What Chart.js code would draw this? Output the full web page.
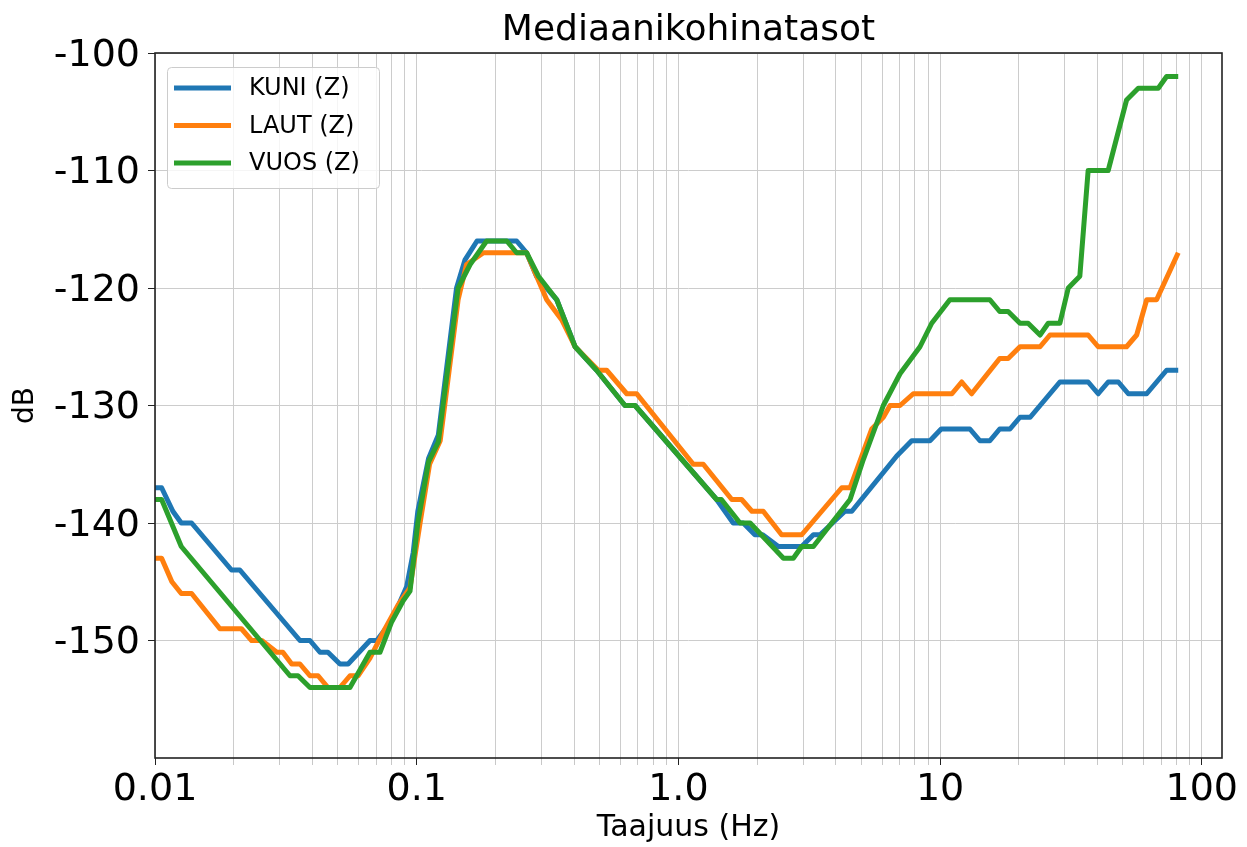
<!DOCTYPE html>
<html>
<head>
<meta charset="utf-8">
<title>Mediaanikohinatasot</title>
<script src="https://cdn.jsdelivr.net/npm/chart.js@4.4.0/dist/chart.umd.min.js"></script>
<style>
    html, body { margin: 0; padding: 0; background: #fff; }
    #kehikko { width: 1247px; height: 847px; }
</style>
</head>
<body>
<div id="kehikko"><canvas id="kuvaaja" width="1247" height="847"></canvas></div>
<script>
// KUNI (Z)
const taajuusKuni = [
    0.01, 0.0106, 0.0117, 0.0126, 0.0138, 0.0196, 0.0211, 0.0358, 0.0391, 0.0427,
    0.0458, 0.0509, 0.0547, 0.0663, 0.0704, 0.0803, 0.0916, 0.097, 0.101, 0.111,
    0.121, 0.142, 0.153, 0.170, 0.241, 0.263, 0.287, 0.343, 0.403, 0.487,
    0.625, 0.683, 1.40, 1.62, 1.77, 1.96, 2.10, 2.41, 2.96, 3.28,
    3.48, 4.33, 4.60, 6.83, 7.79, 9.15, 10.1, 13.0, 14.2, 15.5,
    16.9, 18.5, 20.2, 22.1, 28.7, 36.8, 40.2, 43.9, 48.0, 52.4,
    61.6, 73.4, 81.3,
];
const tasoKuni = [
    -137, -137, -139, -140, -140, -144, -144, -150, -150, -151,
    -151, -152, -152, -150, -150, -148.3, -145.4, -142.5, -139, -134.5,
    -132.5, -120, -117.6, -116, -116, -117, -119, -121, -125, -127,
    -130, -130, -138, -140, -140, -141, -141, -142, -142, -141,
    -141, -139, -139, -134.3, -133, -133, -132, -132, -133, -133,
    -132, -132, -131, -131, -128, -128, -129, -128, -128, -129,
    -129, -127, -127,
];

// LAUT (Z)
const taajuusLaut = [
    0.01, 0.0106, 0.0116, 0.0126, 0.0138, 0.0177, 0.0214, 0.0234, 0.0256, 0.0292,
    0.0308, 0.0333, 0.0358, 0.0391, 0.042, 0.0458, 0.0509, 0.0556, 0.0597, 0.0663,
    0.0757, 0.0848, 0.0943, 0.103, 0.112, 0.123, 0.144, 0.155, 0.180, 0.263,
    0.314, 0.358, 0.403, 0.494, 0.532, 0.635, 0.693, 1.14, 1.245, 1.60,
    1.745, 1.91, 2.11, 2.48, 2.96, 4.21, 4.53, 5.48, 6.07, 6.44,
    7.03, 7.90, 11.1, 12.1, 13.2, 16.9, 18.2, 20.2, 24.1, 26.3,
    36.8, 40.2, 51.6, 56.4, 61.6, 67.2, 81.3,
];
const tasoLaut = [
    -143, -143, -145, -146, -146, -149, -149, -150, -150, -151,
    -151, -152, -152, -153, -153, -154, -154, -153, -153, -151.5,
    -149, -147, -145.5, -140, -135, -133, -121, -118, -117, -117,
    -121, -122.7, -125, -127, -127, -129, -129, -135, -135, -138,
    -138, -139, -139, -141, -141, -137, -137, -132, -131, -130,
    -130, -129, -129, -128, -129, -126, -126, -125, -125, -124,
    -124, -125, -125, -124, -121, -121, -117,
];

// VUOS (Z)
const taajuusVuos = [
    0.01, 0.0106, 0.0126, 0.0328, 0.0352, 0.0391, 0.0556, 0.0663, 0.0724, 0.0803,
    0.0889, 0.0943, 0.101, 0.111, 0.121, 0.144, 0.160, 0.185, 0.221, 0.241,
    0.263, 0.292, 0.343, 0.403, 0.487, 0.625, 0.683, 1.40, 1.46, 1.72,
    1.88, 2.52, 2.75, 2.96, 3.28, 4.53, 5.09, 6.07, 7.03, 8.38,
    9.29, 10.9, 15.5, 16.9, 18.2, 20.2, 21.7, 24.1, 25.9, 28.7,
    30.9, 34.2, 36.8, 43.9, 51.6, 57.2, 68.2, 73.4, 81.3,
];
const tasoVuos = [
    -138, -138, -142, -153, -153, -154, -154, -151, -151, -148.4,
    -146.6, -145.8, -140, -134.8, -133.1, -120, -118, -116, -116, -117,
    -117, -119, -121, -125, -127, -130, -130, -138, -138, -140,
    -140, -143, -143, -142, -142, -138, -134.6, -130, -127.3, -125,
    -123, -121, -121, -122, -122, -123, -123, -124, -123, -123,
    -120, -119, -110, -110, -104, -103, -103, -102, -102,
];

// akselit
const X_PAATIKIT = [0.01, 0.1, 1, 10, 100];
const X_PAANIMET = ['0.01', '0.1', '1.0', '10', '100'];
const Y_TIKIT = [-150, -140, -130, -120, -110, -100];
const OTSIKKO = 'Mediaanikohinatasot';

const X_TIKIT = [];
for (const dekadi of [0.01, 0.1, 1, 10]) {
    for (let k = 1; k <= 9; k++) {
        X_TIKIT.push(Number((k * dekadi).toPrecision(3)));
    }
}
X_TIKIT.push(100);

const FONTTI = "'DejaVu Sans', 'Liberation Sans', sans-serif";
Chart.defaults.font.family = FONTTI;
Chart.defaults.color = '#000';

function pisteet(taajuudet, tasot) {
    return taajuudet.map((f, i) => ({ x: f, y: tasot[i] }));
}

function onPaatikki(arvo) {
    return X_PAATIKIT.indexOf(arvo) !== -1;
}

// kehys ja otsikko kuva-alueen keskelle
const kehys = {
    id: 'kehys',
    afterDatasetsDraw(chart) {
        const { ctx, chartArea: a } = chart;
        ctx.save();
        ctx.strokeStyle = '#222';
        ctx.lineWidth = 1.6;
        ctx.strokeRect(a.left, a.top, a.right - a.left, a.bottom - a.top);
        ctx.font = '36px ' + FONTTI;
        ctx.fillStyle = '#000';
        ctx.textAlign = 'center';
        ctx.textBaseline = 'middle';
        ctx.fillText(OTSIKKO, (a.left + a.right) / 2, 31);
        ctx.restore();
    },
};

const selite = {
    id: 'selite',
    afterDraw(chart) {
        const { ctx, chartArea: a } = chart;
        const x0 = a.left + 12;
        const y0 = a.top + 14;
        ctx.save();
        ctx.fillStyle = 'rgba(255,255,255,0.8)';
        ctx.strokeStyle = '#cccccc';
        ctx.lineWidth = 1;
        ctx.beginPath();
        ctx.roundRect(x0 + 0.5, y0 + 0.5, 212, 121, 4);
        ctx.fill();
        ctx.stroke();
        ctx.font = '24px ' + FONTTI;
        ctx.textBaseline = 'middle';
        chart.data.datasets.forEach((ds, i) => {
            const y = y0 + 21 + i * 37.5;
            ctx.strokeStyle = ds.borderColor;
            ctx.lineWidth = 5;
            ctx.beginPath();
            ctx.moveTo(x0 + 7, y);
            ctx.lineTo(x0 + 64, y);
            ctx.stroke();
            ctx.fillStyle = '#000';
            ctx.fillText(ds.label, x0 + 82, y + 1);
        });
        ctx.restore();
    },
};

new Chart(document.getElementById('kuvaaja'), {
    type: 'line',
    data: {
        datasets: [
            { label: 'KUNI (Z)', data: pisteet(taajuusKuni, tasoKuni), borderColor: '#1f77b4', order: 2 },
            { label: 'LAUT (Z)', data: pisteet(taajuusLaut, tasoLaut), borderColor: '#ff7f0e', order: 1 },
            { label: 'VUOS (Z)', data: pisteet(taajuusVuos, tasoVuos), borderColor: '#2ca02c', order: 0 },
        ],
    },
    options: {
        responsive: false,
        animation: false,
        devicePixelRatio: 1,
        layout: { padding: { left: 0, right: 25, top: 53, bottom: 0 } },
        elements: {
            line: { borderWidth: 5, tension: 0, fill: false, borderJoinStyle: 'round', borderCapStyle: 'butt' },
            point: { radius: 0, hoverRadius: 0 },
        },
        plugins: {
            legend: { display: false },
            tooltip: { enabled: false },
            title: { display: false },
        },
        scales: {
            x: {
                type: 'logarithmic',
                min: 0.01,
                max: 119.5,
                afterBuildTicks: (akseli) => {
                    akseli.ticks = X_TIKIT.map((v) => ({ value: v }));
                },
                afterFit: (akseli) => { akseli.height = 89; },
                ticks: {
                    autoSkip: false,
                    maxRotation: 0,
                    minRotation: 0,
                    padding: 2,
                    color: '#000',
                    font: { size: 38 },
                    callback: (arvo) => {
                        const i = X_PAATIKIT.indexOf(arvo);
                        return i === -1 ? '' : X_PAANIMET[i];
                    },
                },
                grid: {
                    color: '#cccccc',
                    lineWidth: 1,
                    tickLength: 7,
                    tickColor: (c) => (c.tick && onPaatikki(c.tick.value) ? '#222' : '#c8c8c8'),
                },
                border: { display: false },
                title: {
                    display: true,
                    text: 'Taajuus (Hz)',
                    color: '#000',
                    font: { size: 30 },
                    padding: { top: 0, bottom: 1 },
                },
            },
            y: {
                min: -160,
                max: -100,
                afterBuildTicks: (akseli) => {
                    akseli.ticks = Y_TIKIT.map((v) => ({ value: v }));
                },
                afterFit: (akseli) => { akseli.width = 155; },
                ticks: {
                    padding: 8,
                    labelOffset: 3,
                    color: '#000',
                    font: { size: 38 },
                    callback: (arvo) => String(arvo),
                },
                grid: {
                    color: '#cccccc',
                    lineWidth: 1,
                    tickLength: 7,
                    tickColor: '#222',
                },
                border: { display: false },
                title: {
                    display: true,
                    text: 'dB',
                    color: '#000',
                    font: { size: 28 },
                    padding: { top: 9, bottom: 0 },
                },
            },
        },
    },
    plugins: [kehys, selite],
});
</script>
</body>
</html>
